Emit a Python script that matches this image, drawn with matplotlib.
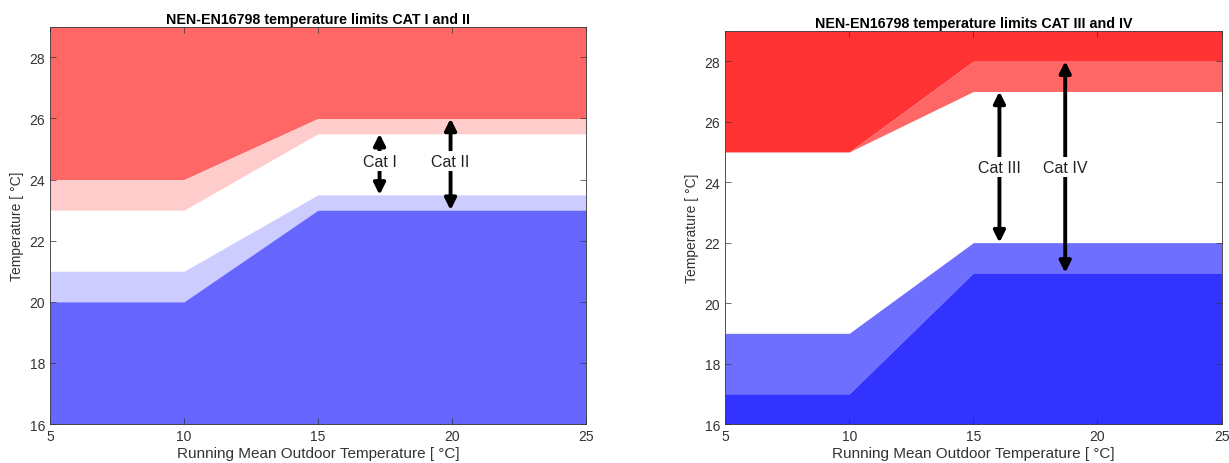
import numpy as np
import matplotlib.pyplot as plt

plt.rcParams['font.family'] = ['Liberation Sans', 'DejaVu Sans']
plt.rcParams['font.size'] = 10
plt.rcParams['axes.linewidth'] = 0.6

# Running mean outdoor temperature breakpoints
t_out = [5, 10, 15, 25]

# CAT I / II limits
cat1_upper = [23, 23, 25.5, 25.5]
cat1_lower = [21, 21, 23.5, 23.5]
cat2_upper = [24, 24, 26, 26]
cat2_lower = [20, 20, 23, 23]

# CAT III / IV limits
cat3_upper = [25, 25, 27, 27]
cat3_lower = [19, 19, 22, 22]
cat4_upper = [25, 25, 28, 28]
cat4_lower = [17, 17, 21, 21]

# arrow annotations: (x, y_low, y_high, label_y, label)
arrows_left = [(17.3, 23.5, 25.5, 24.6, 'Cat I'), (19.95, 23.0, 26.0, 24.6, 'Cat II')]
arrows_right = [(16.05, 22.0, 27.0, 24.5, 'Cat III'), (18.7, 21.0, 28.0, 24.5, 'Cat IV')]

y_min, y_max = 16, 29

fig = plt.figure(figsize=(12.29, 4.64), dpi=100)
ax1 = fig.add_axes([0.0407, 0.084, 0.436, 0.856])
ax2 = fig.add_axes([0.590, 0.084, 0.404, 0.847])


def draw_panel(ax, inner_up, inner_lo, outer_up, outer_lo, cols, arrows, title):
    top = np.full(len(t_out), y_max)
    bot = np.full(len(t_out), y_min)
    ax.fill_between(t_out, outer_up, top, color=cols[0], lw=0)
    ax.fill_between(t_out, inner_up, outer_up, color=cols[1], lw=0)
    ax.fill_between(t_out, outer_lo, inner_lo, color=cols[2], lw=0)
    ax.fill_between(t_out, bot, outer_lo, color=cols[3], lw=0)
    for x, lo, hi, ly, lab in arrows:
        ax.annotate('', xy=(x, hi), xytext=(x, lo),
                    arrowprops=dict(arrowstyle='<|-|>', color='black', lw=2.8,
                                    mutation_scale=17, shrinkA=0, shrinkB=0))
        ax.text(x, ly, lab, ha='center', va='center', fontsize=11.5, color='#222222',
                bbox=dict(facecolor='white', edgecolor='none', pad=2))
    ax.set_xlim(5, 25)
    ax.set_ylim(y_min, y_max)
    ax.set_xticks([5, 10, 15, 20, 25])
    ax.set_yticks([16, 18, 20, 22, 24, 26, 28])
    ax.tick_params(direction='in', top=True, right=True, length=4, width=0.5,
                   colors='#333333', labelsize=10)
    for s in ax.spines.values():
        s.set_color('#333333')
    ax.set_title(title, fontsize=10.3, fontweight='bold', pad=3)
    ax.set_xlabel('Running Mean Outdoor Temperature [ °C]', fontsize=11, labelpad=2, color='#333333')
    ax.set_ylabel('Temperature [ °C]', fontsize=10, labelpad=4, color='#333333')


draw_panel(ax1, cat1_upper, cat1_lower, cat2_upper, cat2_lower,
           ['#ff6666', '#ffcccc', '#ccccff', '#6666ff'], arrows_left,
           'NEN-EN16798 temperature limits CAT I and II')
draw_panel(ax2, cat3_upper, cat3_lower, cat4_upper, cat4_lower,
           ['#ff3333', '#ff6666', '#6e6eff', '#3333ff'], arrows_right,
           'NEN-EN16798 temperature limits CAT III and IV')

plt.savefig('out.png', dpi=100)
